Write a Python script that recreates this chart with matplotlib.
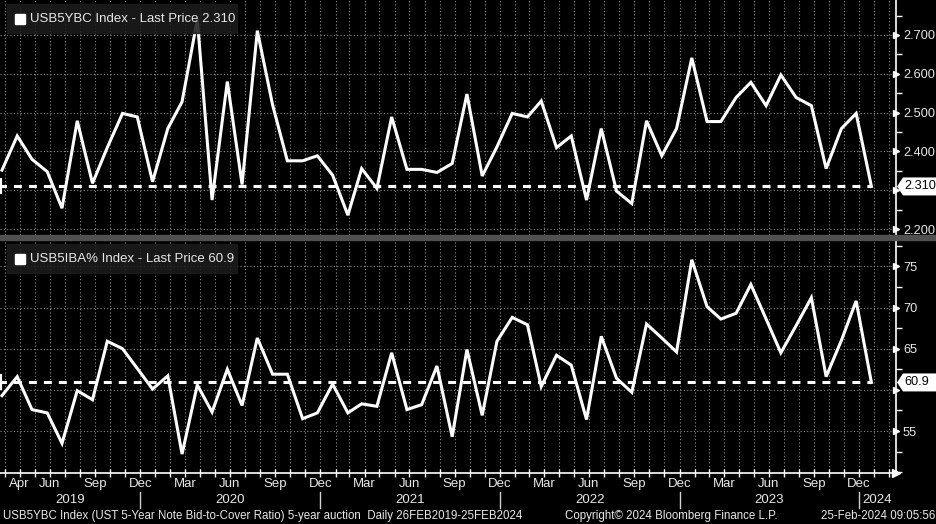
import matplotlib
matplotlib.use("Agg")
import matplotlib.pyplot as plt
import matplotlib.dates as mdates
import matplotlib.transforms as mtrans
from matplotlib.patches import Rectangle, Polygon
import numpy as np
import pandas as pd

plt.rcParams['font.family'] = ['Liberation Sans', 'DejaVu Sans']

# monthly 5-year auctions, Mar 2019 .. Jan 2024
auction_dates = pd.date_range('2019-03-01', periods=59, freq='MS') + pd.Timedelta(days=25)

bid_to_cover = [2.352, 2.440, 2.380, 2.348, 2.254, 2.479, 2.318, 2.410, 2.498, 2.489,
                2.322, 2.459, 2.528, 2.740, 2.275, 2.580, 2.315, 2.711, 2.520, 2.376,
                2.376, 2.389, 2.339, 2.236, 2.356, 2.305, 2.489, 2.354, 2.354, 2.346,
                2.369, 2.548, 2.337, 2.412, 2.498, 2.489, 2.530, 2.410, 2.440, 2.275,
                2.459, 2.298, 2.266, 2.479, 2.389, 2.459, 2.641, 2.477, 2.477, 2.539,
                2.578, 2.518, 2.597, 2.539, 2.518, 2.356, 2.459, 2.498, 2.310]

indirect_pct = [59.3, 61.6, 57.6, 57.2, 53.5, 59.9, 58.8, 65.9, 65.0, 62.6,
                60.1, 61.7, 52.2, 60.6, 57.3, 62.5, 58.1, 66.3, 61.9, 61.9,
                56.5, 57.2, 60.7, 57.2, 58.3, 58.0, 64.5, 57.6, 58.2, 62.9,
                54.3, 64.9, 56.9, 65.9, 68.8, 67.9, 60.4, 64.2, 63.0, 56.4,
                66.5, 61.4, 59.7, 68.0, 66.3, 64.6, 75.8, 70.1, 68.6, 69.3,
                72.8, 68.6, 64.5, 67.8, 71.2, 61.6, 66.0, 70.8, 60.9]

top_ticks = [2.2, 2.3, 2.4, 2.5, 2.6, 2.7]
top_labels = ['2.200', '', '2.400', '2.500', '2.600', '2.700']   # 2.300 sits under the tag
bot_ticks = [55, 60, 65, 70, 75]
bot_labels = ['55', '', '65', '70', '75']                          # 60 sits under the tag
month_names = {3: 'Mar', 4: 'Apr', 6: 'Jun', 9: 'Sep', 12: 'Dec'}

W, H = 936, 524
x_left = pd.Timestamp('2019-03-22')
x_right = pd.Timestamp('2024-03-16')

fig = plt.figure(figsize=(W / 100, H / 100), dpi=100, facecolor='black')


def box(l, t, r, b):
    return [l / W, 1 - b / H, (r - l) / W, (b - t) / H]


ax1 = fig.add_axes(box(0, 0, 896, 235))
ax2 = fig.add_axes(box(0, 240, 896, 473))

fg = '#e8e8e8'
grid_c = '#8c8c8c'

months = pd.date_range('2019-04-01', '2024-03-01', freq='MS')

for ax, vals, ticks, labels, ylim, minor in [
        (ax1, bid_to_cover, top_ticks, top_labels, (2.185, 2.79), 0.05),
        (ax2, indirect_pct, bot_ticks, bot_labels, (49.9, 78.2), 2.5)]:
    ax.set_facecolor('black')
    ax.set_xlim(x_left, x_right)
    ax.set_ylim(*ylim)
    for s in ['left', 'top', 'bottom']:
        ax.spines[s].set_visible(False)
    ax.spines['right'].set_color('white')
    ax.spines['right'].set_linewidth(1.2)

    # grid
    for m in months:
        ax.axvline(m, color=grid_c, lw=0.8, ls=(0, (1, 2)), zorder=1)
    for t in ticks:
        ax.axhline(t, color=grid_c, lw=0.8, ls=(0, (1, 2)), zorder=1)

    ax.yaxis.tick_right()
    ax.set_yticks(ticks)
    ax.set_yticklabels(labels)
    ax.set_yticks(np.arange(ylim[0] - ylim[0] % minor + minor, ylim[1], minor), minor=True)
    ax.tick_params(axis='y', which='major', length=0, pad=5, labelsize=9.2, labelcolor=fg)
    ax.tick_params(axis='y', which='minor', length=4, width=1, color='white', direction='out')
    # tick arrows
    bt = mtrans.blended_transform_factory(ax.transAxes, ax.transData)
    ax.plot([1.0] * len(ticks), ticks, ls='none', marker='>', ms=5, color='white',
            transform=bt, clip_on=False, zorder=5)

    ax.plot(auction_dates, vals, color='white', lw=2.2, zorder=4, solid_joinstyle='miter')
    last = vals[-1]
    ax.plot([x_left, auction_dates[-1]], [last, last], color='white', lw=2.2,
            ls=(0.5, (2.6, 2.3)), zorder=3)
    ax.plot([0.0], [last], marker='|', ms=11, mew=3, color='white', transform=bt,
            clip_on=False, zorder=5)

# x axis on bottom panel
ax1.set_xticks([])
ax2.spines['bottom'].set_visible(True)
ax2.spines['bottom'].set_color('white')
ax2.spines['bottom'].set_linewidth(1.2)
ax2.set_xticks(months)
ax2.set_xticklabels([])
ax2.tick_params(axis='x', length=6, width=1, color='white', direction='inout')
ax2.plot([1.0], [0.0], marker='>', ms=6, color='white', transform=ax2.transAxes,
         clip_on=False, zorder=5)

# month labels sit at the end of each labelled month
bx = mtrans.blended_transform_factory(ax2.transData, ax2.transAxes)
for m in months:
    prev = m - pd.Timedelta(days=1)
    first = prev.year == 2019 and prev.month == 4
    quarter = prev.month in (3, 6, 9, 12) and prev > pd.Timestamp('2019-04-30')
    if first or quarter:
        ax2.text(m, -11 / 233, month_names[prev.month], color=fg, fontsize=9.5,
                 ha='center', va='center', transform=bx)

xmin_num = mdates.date2num(x_left)
xmax_num = mdates.date2num(x_right)
for yr in range(2019, 2025):
    a = max(mdates.date2num(pd.Timestamp(f'{yr}-01-01')), xmin_num)
    b = min(mdates.date2num(pd.Timestamp(f'{yr + 1}-01-01')), xmax_num)
    ax2.text((a + b) / 2, -27 / 233, str(yr), color=fg, fontsize=9.5,
             ha='center', va='center', transform=bx)
    if yr > 2019:
        ax2.plot([a, a], [-19 / 233, -35 / 233], color='#cfcfcf', lw=1,
                 transform=bx, clip_on=False)

# separator between panels
fig.add_artist(Rectangle((0, 1 - 240 / H), 1, 5 / H, transform=fig.transFigure,
                         color='#505050', zorder=2))

# legend boxes
for top, label in [(4, 'USB5YBC Index - Last Price 2.310'),
                   (244, 'USB5IBA% Index - Last Price 60.9')]:
    fig.add_artist(Rectangle((7 / W, 1 - (top + 29) / H), 230 / W, 29 / H,
                             transform=fig.transFigure, color='#1c1c1c', alpha=0.88, zorder=3))
    fig.add_artist(Rectangle((15 / W, 1 - (top + 20) / H), 10 / W, 10 / H,
                             transform=fig.transFigure, color='white', zorder=4))
    fig.text(30 / W, 1 - (top + 15) / H, label, color=fg, fontsize=9.5,
             ha='left', va='center', zorder=5)

# last price tags
fig.canvas.draw()
for ax, last, txt in [(ax1, bid_to_cover[-1], '2.310'), (ax2, indirect_pct[-1], '60.9')]:
    yd = ax.transData.transform((mdates.date2num(x_left), last))[1]
    xd = ax.transAxes.transform((1.0, 0))[0]
    poly = Polygon([(xd + 1, yd), (xd + 7, yd + 9), (W, yd + 9), (W, yd - 9), (xd + 7, yd - 9)],
                   closed=True, transform=None, facecolor='white', edgecolor='none', zorder=6)
    fig.add_artist(poly)
    fig.text((xd + 8) / W, yd / H, txt, color='black', fontsize=9.2, ha='left', va='center',
             zorder=7)

# footer
fig.text(3 / W, 1 - 516 / H,
         'USB5YBC Index (UST 5-Year Note Bid-to-Cover Ratio) 5-year auction  Daily 26FEB2019-25FEB2024',
         color=fg, fontsize=8.3, ha='left', va='center')
fig.text(565 / W, 1 - 516 / H, 'Copyright\u00a9 2024 Bloomberg Finance L.P.', color=fg,
         fontsize=8.3, ha='left', va='center')
fig.text(935 / W, 1 - 516 / H, '25-Feb-2024 09:05:56', color=fg, fontsize=8.3,
         ha='right', va='center')

fig.savefig('out.png', dpi=100, facecolor='black')
